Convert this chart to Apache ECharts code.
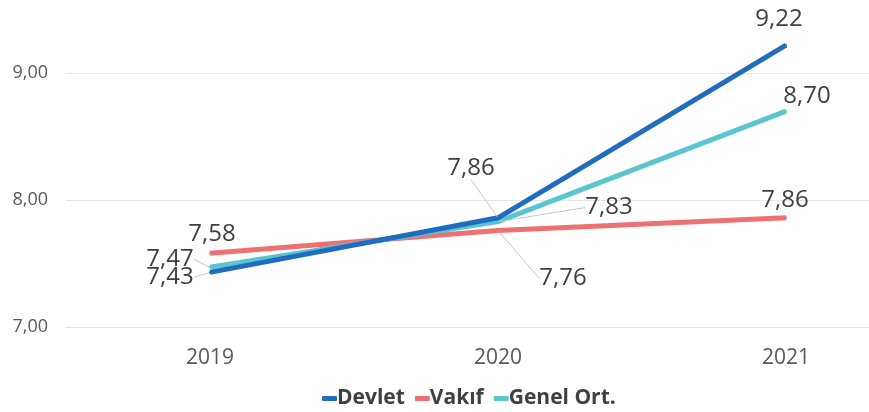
<!DOCTYPE html>
<html>
<head>
<meta charset="utf-8">
<script src="https://cdn.jsdelivr.net/npm/echarts@6/dist/echarts.min.js"></script>
<style>
  html, body { margin: 0; padding: 0; background: #ffffff; }
  #chart { width: 869px; height: 412px; }
</style>
</head>
<body>
<div id="chart"></div>
<script>
// Years on the category axis
const years = ['2019', '2020', '2021'];

// Average scores per institution type
const devlet = [7.43, 7.86, 9.22];
const vakif = [7.58, 7.76, 7.86];
const genelOrt = [7.47, 7.83, 8.70];

// Y axis ticks
const yTicks = [7, 8, 9];

const seriesNames = ['Devlet', 'Vakıf', 'Genel Ort.'];
const seriesColors = ['#1f6cc0', '#ee7070', '#5ac4cf'];

// Label placement offsets (dx, dy from each point), per series and year
const labelOffsets = [
  [[-40, 5], [-27, -50], [-7, -26]],
  [[2, -19], [65, 48], [-1, -18]],
  [[-40, -8], [111, -14], [21, -15]]
];
// Which labels get a leader line
const leaderShown = [
  [true, true, false],
  [false, true, false],
  [true, true, false]
];

const fmt = v => v.toFixed(2).replace('.', ',');

const chart = echarts.init(document.getElementById('chart'), null, { renderer: 'canvas' });

function makeSeries(name, values, idx) {
  return {
    name: name,
    type: 'line',
    data: values.map((v, i) => ({
      value: v,
      labelLine: { show: leaderShown[idx][i] }
    })),
    clip: false,
    symbol: 'circle',
    symbolSize: 2,
    showSymbol: true,
    z: idx === 0 ? 4 : (idx === 2 ? 3 : 2),
    lineStyle: { color: seriesColors[idx], width: 5, cap: 'butt' },
    itemStyle: { color: seriesColors[idx] },
    emphasis: { disabled: true },
    label: {
      show: true,
      position: 'inside',
      formatter: p => fmt(p.value),
      fontFamily: 'Open Sans',
      fontSize: 24,
      color: '#404040'
    },
    labelLine: {
      show: true,
      lineStyle: { color: '#c8c8c8', width: 1 }
    },
    labelLayout: function (params) {
      const o = labelOffsets[idx][params.dataIndex];
      return { dx: o[0], dy: o[1] };
    }
  };
}

chart.setOption({
  animation: false,
  backgroundColor: '#ffffff',
  textStyle: { fontFamily: 'Open Sans' },
  grid: {
    left: 66, width: 864, top: 73, height: 254,
    containLabel: false,
    outerBoundsMode: 'none'
  },
  legend: {
    top: 383,
    left: 317,
    itemWidth: 15,
    itemHeight: 5,
    itemGap: 10,
    icon: 'roundRect',
    data: seriesNames,
    textStyle: {
      fontFamily: 'Open Sans',
      fontSize: 21,
      fontWeight: 'bold',
      color: '#404040',
      padding: [0, 0, 0, -5]
    }
  },
  xAxis: {
    type: 'category',
    data: years,
    boundaryGap: true,
    axisLine: { show: true, lineStyle: { color: '#e3e3e3', width: 1 } },
    axisTick: { show: false },
    axisLabel: { fontFamily: 'Open Sans', fontSize: 21, color: '#595959', margin: 21 }
  },
  yAxis: {
    type: 'value',
    min: yTicks[0],
    max: yTicks[yTicks.length - 1],
    interval: 1,
    axisLine: { show: false },
    axisTick: { show: false },
    splitLine: { lineStyle: { color: '#e6e6e6', width: 1 } },
    axisLabel: {
      fontFamily: 'Open Sans',
      fontSize: 18,
      color: '#595959',
      margin: 18,
      formatter: v => fmt(v)
    }
  },
  series: [
    makeSeries(seriesNames[0], devlet, 0),
    makeSeries(seriesNames[1], vakif, 1),
    makeSeries(seriesNames[2], genelOrt, 2)
  ]
});
</script>
</body>
</html>
